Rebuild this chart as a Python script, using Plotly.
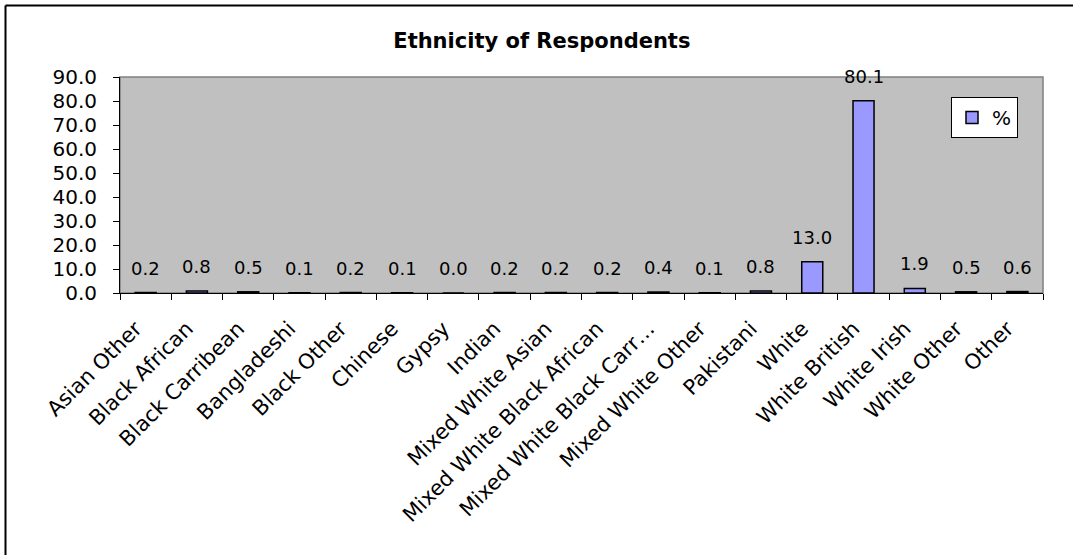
import plotly.graph_objects as go

categories = ["Asian Other", "Black African", "Black Carribean", "Bangladeshi", "Black Other",
              "Chinese", "Gypsy", "Indian", "Mixed White Asian", "Mixed White Black African",
              "Mixed White Black Carr…", "Mixed White Other", "Pakistani", "White",
              "White British", "White Irish", "White Other", "Other"]
values = [0.2, 0.8, 0.5, 0.1, 0.2, 0.1, 0.0, 0.2, 0.2, 0.2, 0.4, 0.1, 0.8, 13.0, 80.1, 1.9, 0.5, 0.6]
series_name = "%"
title_text = "Ethnicity of Respondents"
y_ticks = [0, 10, 20, 30, 40, 50, 60, 70, 80, 90]

FONT = "DejaVu Sans, Liberation Sans, Arial, sans-serif"

fig = go.Figure()
fig.add_trace(go.Bar(
    x=categories, y=values, name=series_name,
    marker=dict(color="#9999FF", line=dict(color="black", width=1.5)),
    showlegend=True,
))

for c, v in zip(categories, values):
    fig.add_annotation(x=c, y=v, text=f"{v:.1f}", showarrow=False,
                       yanchor="bottom", yshift=12,
                       font=dict(family=FONT, size=18, color="black"))

L, R, T, B = 120, 30, 77, 262
W, H = 1073, 555
pw, ph = W - L - R, H - T - B

def px_to_paper_x(px):
    return (px - L) / pw

def px_to_paper_y(py):
    return (H - B - py) / ph

fig.update_layout(
    width=W, height=H,
    margin=dict(l=L, r=R, t=T, b=B),
    paper_bgcolor="white",
    plot_bgcolor="#C0C0C0",
    bargap=0.59,
    font=dict(family=FONT, size=19, color="black"),
    title=dict(text=f"<b>{title_text}</b>", x=0.505, xref="container", xanchor="center",
               y=1 - 41 / H, yref="container", yanchor="middle",
               font=dict(family=FONT, size=21, color="black")),
    legend=dict(x=px_to_paper_x(951), y=px_to_paper_y(97), xanchor="left", yanchor="top",
                bgcolor="white", bordercolor="black", borderwidth=1, itemwidth=30,
                font=dict(family=FONT, size=20, color="black")),
    xaxis=dict(type="category", tickangle=-45, ticks="outside", tickson="boundaries",
               ticklen=6, tickcolor="black", showline=True, linecolor="black", linewidth=1,
               showgrid=False, ticklabelstandoff=14, ticklabelshift=-10,
               tickfont=dict(family=FONT, size=21, color="black")),
    yaxis=dict(range=[0, 90], tickvals=y_ticks, tickformat=".1f", ticks="outside",
               ticklen=6, tickcolor="black", showline=True, linecolor="black", linewidth=1,
               showgrid=False, zeroline=False, ticklabelstandoff=12,
               tickfont=dict(family=FONT, size=20, color="black")),
)

# plot area border (gray)
fig.add_shape(type="rect", xref="paper", yref="paper", x0=0, y0=0, x1=1, y1=1,
              line=dict(color="#808080", width=1.5), layer="below")
# outer chart border (left and top visible)
fig.add_shape(type="line", xref="paper", yref="paper",
              x0=px_to_paper_x(5.5), y0=px_to_paper_y(5.5), x1=px_to_paper_x(1080), y1=px_to_paper_y(5.5),
              line=dict(color="black", width=2))
fig.add_shape(type="line", xref="paper", yref="paper",
              x0=px_to_paper_x(5.5), y0=px_to_paper_y(5.5), x1=px_to_paper_x(5.5), y1=px_to_paper_y(560),
              line=dict(color="black", width=2))

fig.write_html("out.html", config={"displayModeBar": False},
               post_script="document.body.style.margin='0';")
